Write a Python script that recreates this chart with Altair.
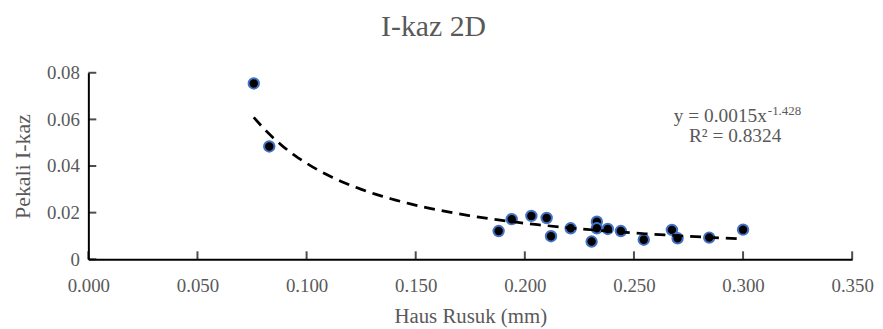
import altair as alt
import pandas as pd

# Data
haus = [0.0758, 0.0829, 0.1880, 0.1940, 0.2030, 0.2100, 0.2120, 0.2210, 0.2306,
        0.2330, 0.2330, 0.2380, 0.2440, 0.2545, 0.2674, 0.2700, 0.2845, 0.3000]
pekali = [0.0754, 0.0484, 0.0121, 0.0172, 0.0186, 0.0177, 0.0099, 0.0133, 0.0076,
          0.0161, 0.0133, 0.0130, 0.0121, 0.0084, 0.0126, 0.0090, 0.0093, 0.0127]

x_ticks = [0.0, 0.05, 0.10, 0.15, 0.20, 0.25, 0.30, 0.35]
y_ticks = [0.0, 0.02, 0.04, 0.06, 0.08]

title_text = "I-kaz 2D"
x_title = "Haus Rusuk (mm)"
y_title = "Pekali I-kaz"
eq_main = "y = 0.0015x"
eq_sup = "-1.428"
r2_text = "R² = 0.8324"

FONT = "Liberation Serif"
GREY = "#595959"
W, H = 770, 188

df = pd.DataFrame({"x": haus, "y": pekali})
xt = pd.DataFrame({"x": x_ticks})
yt = pd.DataFrame({"y": y_ticks})

xscale = alt.Scale(domain=[0, 0.35], nice=False, zero=False)
yscale = alt.Scale(domain=[0, 0.08], nice=False, zero=False)

x_axis = alt.Axis(values=x_ticks, format=".3f", grid=False, ticks=False,
                  domainColor="black", domainWidth=2,
                  labelFont=FONT, labelFontSize=19, labelColor=GREY,
                  labelPadding=17, titleFont=FONT, titleFontSize=21,
                  titleFontWeight="normal", titleColor=GREY, titlePadding=11,
                  labelFlush=False)
y_axis = alt.Axis(values=y_ticks, grid=False, ticks=False,
                  labelExpr="datum.value == 0 ? '0' : format(datum.value, '.2f')",
                  domainColor="black", domainWidth=2,
                  labelFont=FONT, labelFontSize=19, labelColor=GREY,
                  labelPadding=9, titleFont=FONT, titleFontSize=22,
                  titleFontWeight="normal", titleColor=GREY, titlePadding=12,
                  labelFlush=False)

points = alt.Chart(df).mark_point(
    filled=True, shape="circle", size=110, fill="black",
    stroke="#4472C4", strokeWidth=2, opacity=1
).encode(
    x=alt.X("x:Q", scale=xscale, title=x_title, axis=x_axis),
    y=alt.Y("y:Q", scale=yscale, title=y_title, axis=y_axis),
)

trend = alt.Chart(df).transform_regression(
    "x", "y", method="pow"
).mark_line(color="black", strokeDash=[11, 7], strokeWidth=2.75).encode(
    x=alt.X("x:Q", scale=xscale, title=x_title),
    y=alt.Y("y:Q", scale=yscale, title=y_title),
)

xtick_marks = alt.Chart(xt).mark_tick(
    color="black", thickness=2, size=8, orient="vertical"
).encode(
    x=alt.X("x:Q", scale=xscale, title=x_title),
    y=alt.value(H - 4),
)

ytick_marks = alt.Chart(yt).mark_tick(
    color="black", thickness=2, size=8, orient="horizontal"
).encode(
    y=alt.Y("y:Q", scale=yscale, title=y_title),
    x=alt.value(4),
)

eq1 = alt.Chart(pd.DataFrame({"t": [eq_main]})).mark_text(
    font=FONT, fontSize=19.5, color=GREY, align="right", baseline="alphabetic"
).encode(text="t:N", x=alt.value(684), y=alt.value(50))

eq2 = alt.Chart(pd.DataFrame({"t": [eq_sup]})).mark_text(
    font=FONT, fontSize=13, color=GREY, align="left", baseline="alphabetic"
).encode(text="t:N", x=alt.value(685), y=alt.value(43))

r2 = alt.Chart(pd.DataFrame({"t": [r2_text]})).mark_text(
    font=FONT, fontSize=19.5, color=GREY, align="center", baseline="alphabetic"
).encode(text="t:N", x=alt.value(652), y=alt.value(70))

chart = alt.layer(
    points, trend, xtick_marks, ytick_marks, eq1, eq2, r2
).properties(
    width=W, height=H,
    title=alt.TitleParams(title_text, font=FONT, fontSize=30, fontWeight="normal",
                          color=GREY, anchor="middle", dx=-37, offset=22),
    autosize=alt.AutoSizeParams(type="none"),
    padding={"left": 81, "top": 64, "right": 23, "bottom": 68},
).configure_view(strokeWidth=0)

chart.save("out.html", embed_options={"renderer": "svg", "actions": False})
